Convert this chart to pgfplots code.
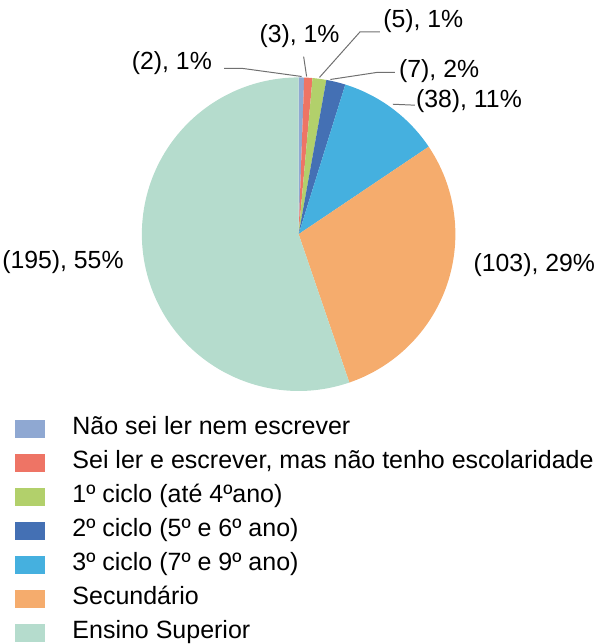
\documentclass[border=0pt]{standalone}
\usepackage{pgfplots}
\usepackage{pgfplotstable}
\pgfplotsset{compat=1.18}
\usepackage{fontspec}
\setmainfont{Liberation Sans}
\definecolor{c0}{HTML}{8FA8D2}
\definecolor{c1}{HTML}{EE7465}
\definecolor{c2}{HTML}{B2D06B}
\definecolor{c3}{HTML}{4470B4}
\definecolor{c4}{HTML}{45B0DF}
\definecolor{c5}{HTML}{F5AC6D}
\definecolor{c6}{HTML}{B5DCCD}
\definecolor{leader}{HTML}{707070}
\pgfplotstableread{
n
2
3
5
7
38
103
195
}\piedata
\begin{document}
\begin{tikzpicture}
\fontsize{12.5}{15}\selectfont
% compute slice angles from the data
\def\total{0}
\pgfplotsforeachungrouped \i in {0,...,6}{%
  \pgfplotstablegetelem{\i}{n}\of\piedata
  \pgfmathsetmacro{\total}{\total+\pgfplotsretval}%
}
\def\cum{0}
\pgfplotsforeachungrouped \i in {0,...,6}{%
  \pgfplotstablegetelem{\i}{n}\of\piedata
  \pgfmathsetmacro{\sa}{90-360*(\cum/\total)}%
  \pgfmathsetmacro{\cum}{\cum+\pgfplotsretval}%
  \pgfmathsetmacro{\sb}{90-360*(\cum/\total)}%
  \expandafter\xdef\csname pa\i\endcsname{\sa}%
  \expandafter\xdef\csname pb\i\endcsname{\sb}%
}
\begin{axis}[
  x=79pt, y=79pt,
  xmin=-1.905, xmax=1.892, ymin=-2.582, ymax=1.494,
  hide axis, clip=false,
  legend image code/.code={\fill[#1] (0pt,-4.5pt) rectangle (15pt,4.5pt); \path[draw=none,fill=none] (0pt,0pt) -- (29pt,0pt);},
  legend style={at={(axis cs:-1.810,-1.170)}, anchor=north west, draw=none, fill=none,
    inner sep=0pt, outer sep=0pt, row sep=5.6pt,
    font=\fontsize{12.6}{15}\selectfont,
    nodes={inner sep=0pt, text height=8.5pt, text depth=3pt}},
  legend cell align=left,
]
\path (rel axis cs:0,0) rectangle (rel axis cs:1,1);
\pgfplotsinvokeforeach{0,...,6}{%
  \edef\temp{\noexpand\fill[c#1] (axis cs:0,0) -- ++(\csname pa#1\endcsname:79pt) arc[start angle=\csname pa#1\endcsname, end angle=\csname pb#1\endcsname, radius=79pt] -- cycle;}%
  \temp
}
\addlegendimage{fill=c0, draw=none}\addlegendentry{Não sei ler nem escrever}
\addlegendimage{fill=c1, draw=none}\addlegendentry{Sei ler e escrever, mas não tenho escolaridade}
\addlegendimage{fill=c2, draw=none}\addlegendentry{1º ciclo (até 4ºano)}
\addlegendimage{fill=c3, draw=none}\addlegendentry{2º ciclo (5º e 6º ano)}
\addlegendimage{fill=c4, draw=none}\addlegendentry{3º ciclo (7º e 9º ano)}
\addlegendimage{fill=c5, draw=none}\addlegendentry{Secundário}
\addlegendimage{fill=c6, draw=none}\addlegendentry{Ensino Superior}
% leader lines
\draw[leader, line width=0.5pt] (axis cs:-0.475,1.057) -- (axis cs:-0.354,1.057) -- (axis cs:0.019,1.006);
\draw[leader, line width=0.5pt] (axis cs:0.032,1.133) -- (axis cs:0.051,1.006);
\draw[leader, line width=0.5pt] (axis cs:0.519,1.291) -- (axis cs:0.392,1.291) -- (axis cs:0.133,1.0);
\draw[leader, line width=0.5pt] (axis cs:0.614,1.032) -- (axis cs:0.5,1.032) -- (axis cs:0.203,0.987);
\draw[leader, line width=0.5pt] (axis cs:0.741,0.823) -- (axis cs:0.601,0.829);
% labels
\node[anchor=east, inner sep=0pt] at (axis cs:-0.551,1.091) {(2), 1\%};
\node[inner sep=0pt] at (axis cs:0.006,1.262) {(3), 1\%};
\node[anchor=west, inner sep=0pt] at (axis cs:0.538,1.357) {(5), 1\%};
\node[anchor=west, inner sep=0pt] at (axis cs:0.639,1.041) {(7), 2\%};
\node[anchor=west, inner sep=0pt] at (axis cs:0.747,0.851) {(38), 11\%};
\node[anchor=west, inner sep=0pt] at (axis cs:1.114,-0.20) {(103), 29\%};
\node[anchor=east, inner sep=0pt] at (axis cs:-1.114,-0.175) {(195), 55\%};
\end{axis}
\end{tikzpicture}
\end{document}
